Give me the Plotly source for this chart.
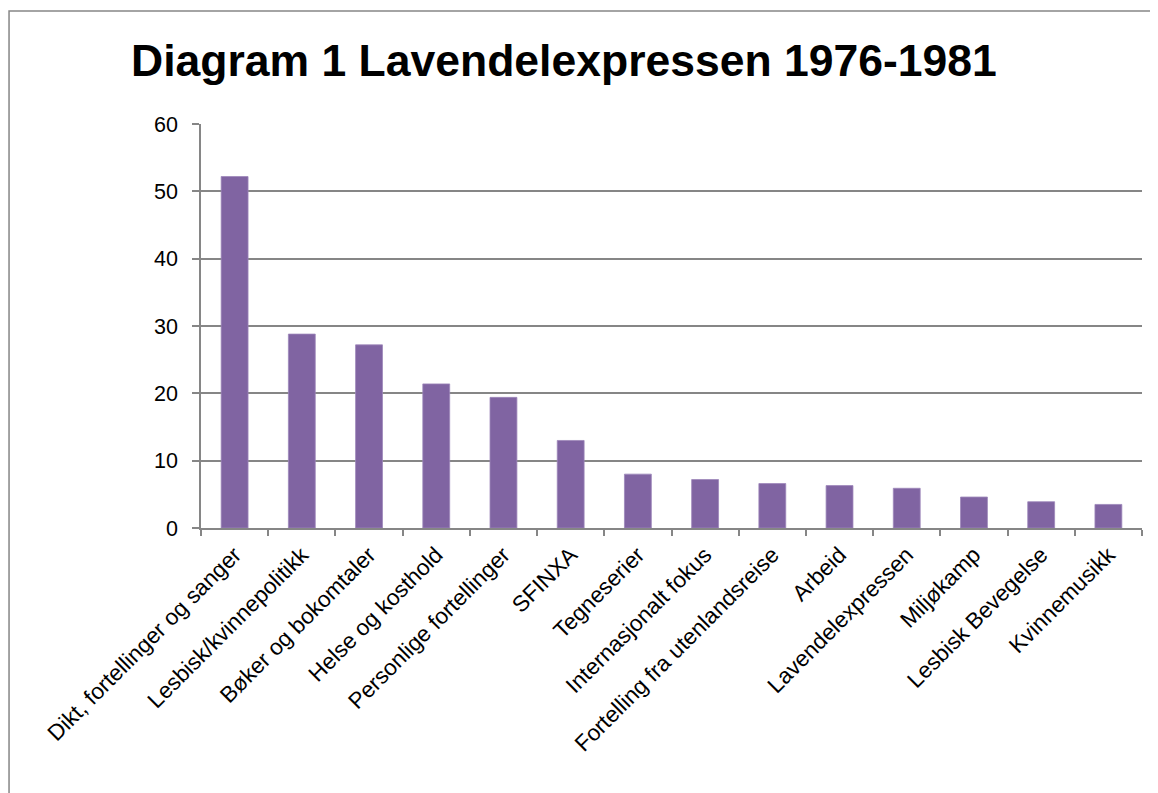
import plotly.graph_objects as go

categories = [
    "Dikt, fortellinger og sanger",
    "Lesbisk/kvinnepolitikk",
    "Bøker og bokomtaler",
    "Helse og kosthold",
    "Personlige fortellinger",
    "SFINXA",
    "Tegneserier",
    "Internasjonalt fokus",
    "Fortelling fra utenlandsreise",
    "Arbeid",
    "Lavendelexpressen",
    "Miljøkamp",
    "Lesbisk Bevegelse",
    "Kvinnemusikk",
]
values = [52.2, 28.8, 27.2, 21.4, 19.4, 13.0, 8.0, 7.2, 6.6, 6.3, 5.9, 4.6, 3.9, 3.5]
y_ticks = [0, 10, 20, 30, 40, 50, 60]
title_text = "Diagram 1 Lavendelexpressen 1976-1981"

FONT = "Liberation Sans"
GRID = "#868686"

fig = go.Figure(
    go.Bar(
        x=categories,
        y=values,
        marker=dict(color="#8064A2", line=dict(color="#9D87BA", width=0.8)),
    )
)

fig.update_layout(
    width=1150,
    height=785,
    paper_bgcolor="white",
    plot_bgcolor="white",
    margin=dict(l=193, r=16, t=116, b=265),
    bargap=0.6,
    showlegend=False,
    font=dict(family=FONT, size=22, color="black"),
)

fig.update_xaxes(
    type="category",
    tickangle=-45,
    tickson="boundaries",
    ticks="outside",
    ticklen=6,
    tickcolor=GRID,
    tickwidth=1.5,
    showline=True,
    linecolor=GRID,
    linewidth=1.5,
    showgrid=False,
    ticklabelstandoff=3,
    tickfont=dict(family=FONT, size=22.5, color="black"),
)
fig.update_yaxes(
    range=[0, 60],
    tickvals=y_ticks,
    ticks="outside",
    ticklen=7,
    tickcolor=GRID,
    tickwidth=1.5,
    showline=True,
    linecolor=GRID,
    linewidth=1.5,
    showgrid=True,
    gridcolor=GRID,
    gridwidth=1.5,
    zeroline=False,
    ticklabelstandoff=10,
    tickfont=dict(family=FONT, size=21.5, color="black"),
)

fig.add_annotation(
    text="<b>" + title_text + "</b>",
    xref="paper", yref="paper",
    x=0.386, y=1.156,
    xanchor="center", yanchor="middle",
    showarrow=False,
    font=dict(family=FONT, size=44.5, color="black"),
)

fig.add_shape(
    type="rect",
    xref="paper", yref="paper",
    x0=-0.204, x1=1.05, y0=-0.70, y1=1.2797,
    line=dict(color=GRID, width=1.5),
    fillcolor="rgba(0,0,0,0)",
    layer="below",
)

fig.write_html("out.html")
